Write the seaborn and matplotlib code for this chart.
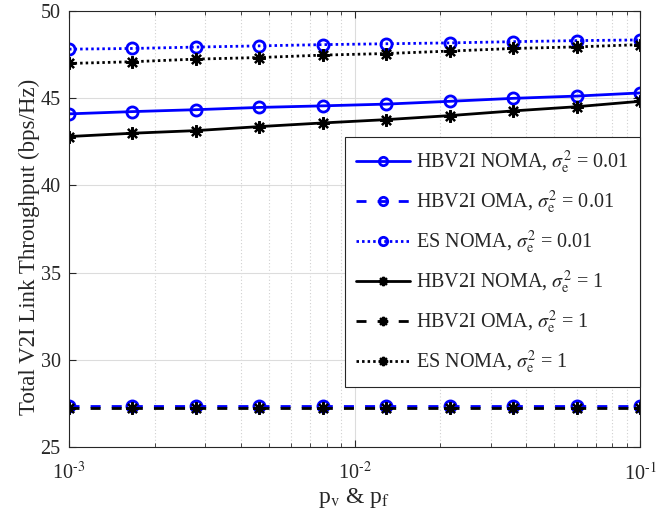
import numpy as np
import pandas as pd
import matplotlib
matplotlib.use("Agg")
import matplotlib.pyplot as plt
import seaborn as sns
from matplotlib.ticker import LogLocator, NullFormatter

x_vals = [1.0e-3, 1.668e-3, 2.783e-3, 4.642e-3, 7.743e-3, 1.292e-2, 2.154e-2, 3.594e-2, 5.995e-2, 1.0e-1]
hbv2i_noma_001 = [44.10, 44.23, 44.34, 44.47, 44.56, 44.66, 44.82, 44.99, 45.12, 45.30]
hbv2i_oma_001 = [27.35, 27.35, 27.35, 27.35, 27.35, 27.35, 27.35, 27.35, 27.35, 27.35]
es_noma_001 = [47.81, 47.85, 47.93, 48.00, 48.07, 48.12, 48.17, 48.24, 48.30, 48.34]
hbv2i_noma_1 = [42.80, 42.99, 43.14, 43.37, 43.58, 43.77, 44.00, 44.27, 44.51, 44.82]
hbv2i_oma_1 = [27.26, 27.26, 27.26, 27.26, 27.26, 27.26, 27.26, 27.26, 27.26, 27.26]
es_noma_1 = [46.99, 47.09, 47.24, 47.33, 47.47, 47.56, 47.70, 47.85, 47.94, 48.07]

x_ticks = [1e-3, 1e-2, 1e-1]
x_tick_labels = ["10$^{\u2010 3}$", "10$^{\u2010 2}$", "10$^{\u2010 1}$"]
y_ticks = [25, 30, 35, 40, 45, 50]

labels = [
    r"HBV2I NOMA, $\sigma_{\rm e}^{2}$ = 0.01",
    r"HBV2I OMA, $\sigma_{\rm e}^{2}$ = 0.01",
    r"ES NOMA, $\sigma_{\rm e}^{2}$ = 0.01",
    r"HBV2I NOMA, $\sigma_{\rm e}^{2}$ = 1",
    r"HBV2I OMA, $\sigma_{\rm e}^{2}$ = 1",
    r"ES NOMA, $\sigma_{\rm e}^{2}$ = 1",
]
series = [hbv2i_noma_001, hbv2i_oma_001, es_noma_001, hbv2i_noma_1, hbv2i_oma_1, es_noma_1]

sns.set_style("ticks")
plt.rcParams["font.family"] = ["Liberation Serif", "DejaVu Serif"]
plt.rcParams["mathtext.fontset"] = "stix"

fig = plt.figure(figsize=(6.56, 5.25), dpi=100)
ax = fig.add_axes([0.1052, 0.1486, 0.8704, 0.8305])

blue = "#0000ff"
black = "#000000"
dash = (0, (3.6, 4.0))
dot = (0, (0.9, 1.1))
styles = [
    dict(color=blue, linestyle="-", marker="o"),
    dict(color=blue, linestyle=dash, marker="o"),
    dict(color=blue, linestyle=dot, marker="o"),
    dict(color=black, linestyle="-", marker=(8, 2, 0)),
    dict(color=black, linestyle=dash, marker=(8, 2, 0)),
    dict(color=black, linestyle=dot, marker=(8, 2, 0)),
]

for lab, ys, st in zip(labels, series, styles):
    df = pd.DataFrame({"x": x_vals, "y": ys})
    is_circle = st["marker"] == "o"
    sns.lineplot(data=df, x="x", y="y", ax=ax, label=lab,
                 color=st["color"], linestyle=st["linestyle"], marker=st["marker"],
                 linewidth=2, markersize=8 if is_circle else 9,
                 markerfacecolor="none" if is_circle else st["color"],
                 markeredgecolor=st["color"], markeredgewidth=2 if is_circle else 1.6)

ax.set_xscale("log")
ax.set_xlim(1e-3, 1e-1)
ax.set_ylim(25, 50)
ax.set_yticks(y_ticks)
ax.set_xticks(x_ticks)
ax.set_xticklabels(x_tick_labels)
ax.xaxis.set_minor_locator(LogLocator(base=10, subs=np.arange(2, 10), numticks=20))
ax.xaxis.set_minor_formatter(NullFormatter())

ax.grid(True, which="major", color="#dcdcdc", linestyle="-", linewidth=0.8)
ax.grid(True, which="minor", axis="x", color="#d0d0d0", linestyle=(0, (1, 2)), linewidth=0.8)
ax.set_axisbelow(True)

for sp in ax.spines.values():
    sp.set_color("#262626")
    sp.set_linewidth(0.8)
ax.tick_params(which="both", direction="in", top=True, right=True, labelsize=14.5, colors="#262626")
ax.tick_params(which="major", length=5)
ax.tick_params(which="minor", length=3)
ax.tick_params(axis="x", which="major", pad=11)
ax.tick_params(axis="y", which="major", pad=6)

ax.set_xlabel(r"p$_{\rm v}$ & p$_{\rm f}$", fontsize=17, color="#262626", labelpad=1)
ax.set_ylabel("Total V2I Link Throughput (bps/Hz)", fontsize=16.5, color="#262626")
ax.yaxis.set_label_coords(-0.05, 0.458)

leg = ax.legend(loc="lower right", bbox_to_anchor=(1.0, 0.1376), borderaxespad=0,
                fontsize=14.5, frameon=True, fancybox=False, framealpha=1,
                edgecolor="#262626", handlelength=2.7, labelspacing=0.62,
                handletextpad=0.3, borderpad=0.55, markerscale=0.75)
leg.get_frame().set_linewidth(0.8)

fig.savefig("out.png", dpi=100)
